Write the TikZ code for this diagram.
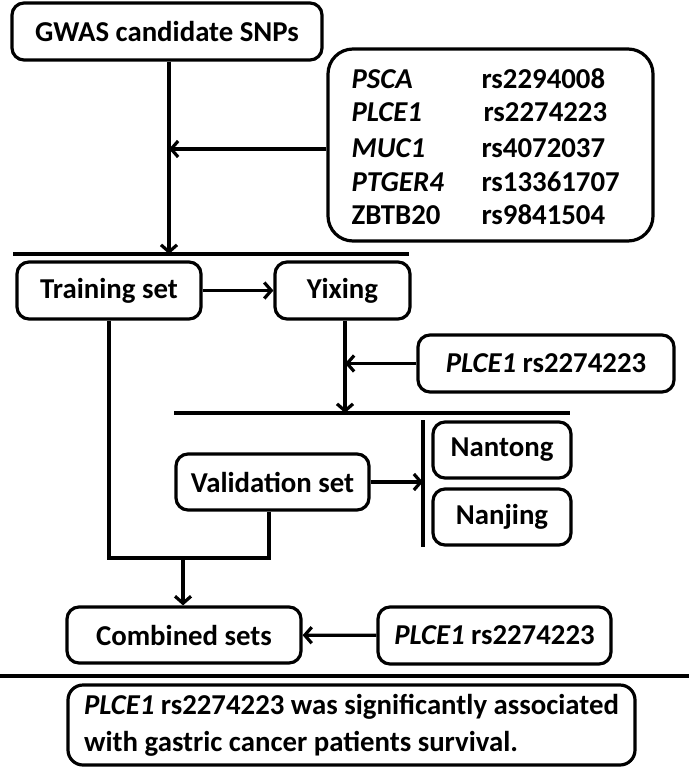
\documentclass[tikz,border=0pt]{standalone}
\usepackage{fontspec}
\setmainfont{Carlito}
\usetikzlibrary{arrows.meta}
\begin{document}
\begin{tikzpicture}[x=1pt,y=-1pt, line width=3.2pt,
  box/.style={draw, rounded corners=12pt, minimum width=#1, inner sep=0pt, minimum height=57pt, align=center},
  arr/.style={-{Straight Barb[length=7pt,width=16pt]}},
  txt/.style={anchor=base west, inner sep=0pt},
  font=\fontsize{28.8}{37}\selectfont\bfseries]
\useasboundingbox (0,0) rectangle (689,770);
% top
\node[box=310pt] (gwas) at (167,31.5) {GWAS candidate SNPs};
\node[draw, rounded corners=25pt, minimum width=325pt, minimum height=192pt, inner sep=0pt] (snp) at (490.5,145) {};
\node[txt] (g1) at (350,88.5) {\itshape PSCA};
\node[txt] (r1) at (480,88.5) {rs2294008};
\node[txt] (g2) at (350,121.5) {\itshape PLCE1};
\node[txt] (r2) at (482,121.5) {rs2274223};
\node[txt] (g3) at (350,157.5) {\itshape MUC1};
\node[txt] (r3) at (480,157.5) {rs4072037};
\node[txt] (g4) at (350,191.5) {\itshape PTGER4};
\node[txt] (r4) at (480,191.5) {rs13361707};
\node[txt] (g5) at (350,224.5) {ZBTB20};
\node[txt] (r5) at (480,224.5) {rs9841504};
\coordinate (j1) at (169,149);
\coordinate (l1) at (169,254);
\draw[arr] (gwas.south -| l1) -- (l1);
\draw[arr] (snp.west |- j1) -- (j1);
\coordinate (h1a) at (13,254);
\coordinate (h1b) at (409,254);
\draw (h1a) -- (h1b);
% training
\node[box=184pt] (train) at (109,290.5) {Training set};
\node[box=135pt] (yix) at (342.5,290.5) {Yixing};
\draw[arr] (train) -- (yix);
\coordinate (l2) at (345,413);
\draw[arr] (yix.south -| l2) -- (l2);
\node[box=256pt] (mp) at (546,363.5) {\textit{PLCE1} rs2274223};
\draw[arr] (mp.west) -- (mp.west -| l2);
\coordinate (h2a) at (174,413);
\coordinate (h2b) at (570,413);
\draw (h2a) -- (h2b);
% validation
\coordinate (va) at (423,420);
\coordinate (vz) at (423,547);
\draw (va) -- (vz);
\node[box=138pt, minimum height=56pt] (nt) at (502,450) {Nantong};
\node[box=138pt, minimum height=56pt] (nj) at (502,517) {Nanjing};
\node[box=193pt, minimum height=56pt] (val) at (272.5,482) {Validation set};
\coordinate (vb) at (423,482);
\draw[arr] (val.east) -- (vb);
% combined
\node[box=234pt, minimum height=56pt] (comb) at (184,635) {Combined sets};
\node[box=233pt] (cp) at (494.5,635.5) {\textit{PLCE1} rs2274223};
\coordinate (jl) at (109,558);
\coordinate (jr) at (269,558);
\coordinate (jm) at (183,558);
\draw (train.south) -- (jl) -- (jr) -- (val.south -| jr);
\draw[arr] (jm) -- (comb.north -| jm);
\draw[arr] (cp) -- (comb);
\coordinate (h3a) at (0,676);
\coordinate (h3b) at (689,676);
\draw (h3a) -- (h3b);
\node[draw, rounded corners=15pt, minimum width=567pt, minimum height=80pt, align=left, inner sep=0pt] (fin) at (351.5,725) {\textit{PLCE1} rs2274223 was significantly associated\\with gastric cancer patients survival.};
\end{tikzpicture}
\end{document}
